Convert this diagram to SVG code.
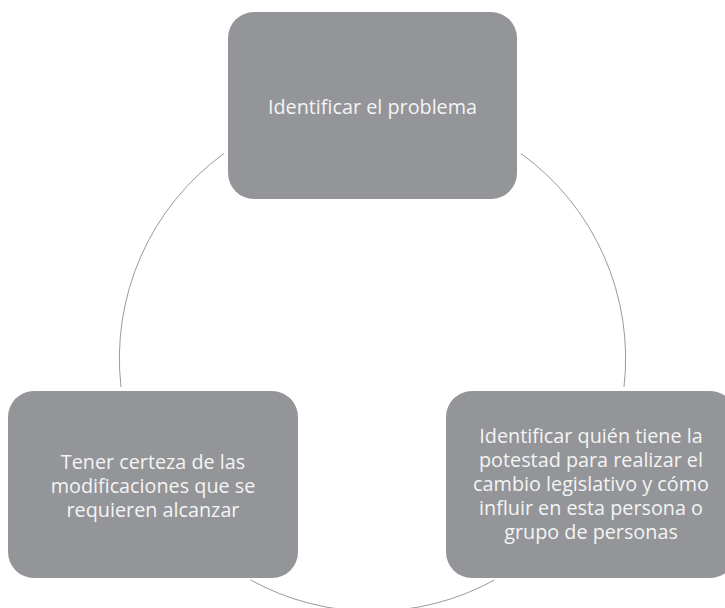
<svg xmlns="http://www.w3.org/2000/svg" width="725" height="608" viewBox="0 0 725 608">
<style>
.box{fill:#939598}
.lbl{font-family:"Open Sans","Noto Sans",sans-serif;fill:#f4f4f4;text-anchor:middle;font-size:19.8px}
.arc{fill:none;stroke:#9a9a9a;stroke-width:1}
</style>
<rect width="725" height="608" fill="#ffffff"/>
<g id="connectors">
<path class="arc" d="M224,153.5 A253,253 0 0 0 121,387"/>
<path class="arc" d="M521,153.5 A253,253 0 0 1 624,387"/>
<path class="arc" d="M250.6,580 A253,253 0 0 0 494.4,580"/>
</g>
<g id="node-top">
<rect class="box" x="228" y="12" width="289" height="187" rx="26"/>
<text class="lbl" x="372.5" y="113.5">Identificar el problema</text>
</g>
<g id="node-left">
<rect class="box" x="8" y="391" width="290" height="187" rx="26"/>
<text class="lbl" x="153" y="469">Tener certeza de las</text>
<text class="lbl" x="153" y="493">modificaciones que se</text>
<text class="lbl" x="153" y="517">requieren alcanzar</text>
</g>
<g id="node-right">
<rect class="box" x="446" y="391" width="290" height="187" rx="26"/>
<text class="lbl" x="591" y="443">Identificar quién tiene la</text>
<text class="lbl" x="591" y="467">potestad para realizar el</text>
<text class="lbl" x="591" y="491">cambio legislativo y cómo</text>
<text class="lbl" x="591" y="515">influir en esta persona o</text>
<text class="lbl" x="591" y="539">grupo de personas</text>
</g>
</svg>
